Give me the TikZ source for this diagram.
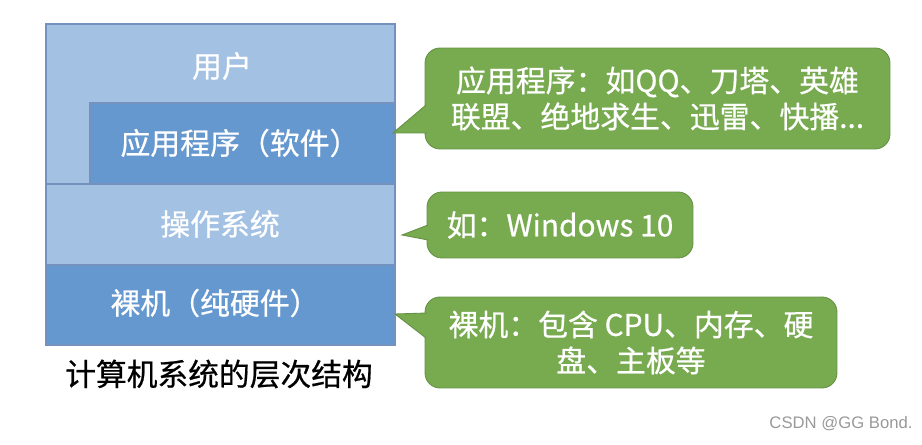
\documentclass[tikz,border=0pt]{standalone}
\usepackage{fontspec}
\setmainfont{Noto Sans CJK SC}[FakeBold=0.6]
\newfontfamily\markfont{Liberation Sans}
\definecolor{layerlight}{RGB}{163,194,227}
\definecolor{layerdark}{RGB}{101,152,206}
\definecolor{layeredge}{RGB}{116,146,190}
\definecolor{notegreen}{RGB}{120,170,80}
\definecolor{noteedge}{RGB}{100,145,68}
\newcommand{\layerbox}[5]{%
  \filldraw[fill=#1,draw=layeredge,line width=0.6pt] (#2,#3) rectangle (#4,#5);}
\newcommand{\notetail}[3]{%
  \fill[notegreen] #1 -- #2 -- #3 -- cycle;
  \draw[noteedge,line width=0.5pt] #1 -- #2 -- #3;}
\tikzset{
  layertext/.style={text=white,inner sep=0pt,font=\fontsize{17}{20}\selectfont},
  notebox/.style={fill=notegreen,draw=noteedge,line width=0.5pt,rounded corners=0.3cm,
    text=white,align=center,inner sep=0pt,font=\fontsize{17}{20.5}\selectfont},
  caption/.style={inner sep=0pt,font=\fontsize{17.5}{21}\selectfont},
  watermark/.style={text=black!40,inner sep=0pt,font=\markfont\fontsize{9.5}{11}\selectfont},
}

\begin{document}
\begin{tikzpicture}[x=0.02cm,y=-0.02cm]
\useasboundingbox (0,0) rectangle (922,445);
% layer stack
\layerbox{layerlight}{46}{24}{395}{184}
\layerbox{layerdark}{90}{103}{395}{184}
\layerbox{layerlight}{46}{184}{395}{265}
\layerbox{layerdark}{46}{265}{395}{345}
\node[layertext] (user) at (222,66) {用户};
\node[layertext] (apps) at (240,143) {应用程序（软件）};
\node[layertext] (os) at (220,224) {操作系统};
\node[layertext] (hw) at (215,303) {裸机（纯硬件）};
\node[caption] (title) at (219,374) {计算机系统的层次结构};
% callouts
\node[notebox,minimum width=9.3cm,minimum height=2.02cm] (appnote) at (657.5,98.5)
  {应用程序：如QQ、刀塔、英雄\\联盟、绝地求生、迅雷、快播...};
\coordinate (apptip) at (393,133);
\notetail{(426,105)}{(apptip)}{(427,133)}
\node[notebox,minimum width=5.32cm,minimum height=1.32cm] (osnote) at (560,225)
  {如：Windows 10};
\coordinate (ostip) at (402,235);
\notetail{(428,225)}{(ostip)}{(428,240)}
\node[notebox,minimum width=8.24cm,minimum height=1.82cm] (hwnote) at (631,342.5)
  {裸机：包含 CPU、内存、硬\\盘、主板等};
\coordinate (hwtip) at (395,314);
\notetail{(427,313)}{(hwtip)}{(426,338)}
\node[watermark] (mark) at (841,424) {CSDN @GG Bond.};
\end{tikzpicture}
\end{document}
